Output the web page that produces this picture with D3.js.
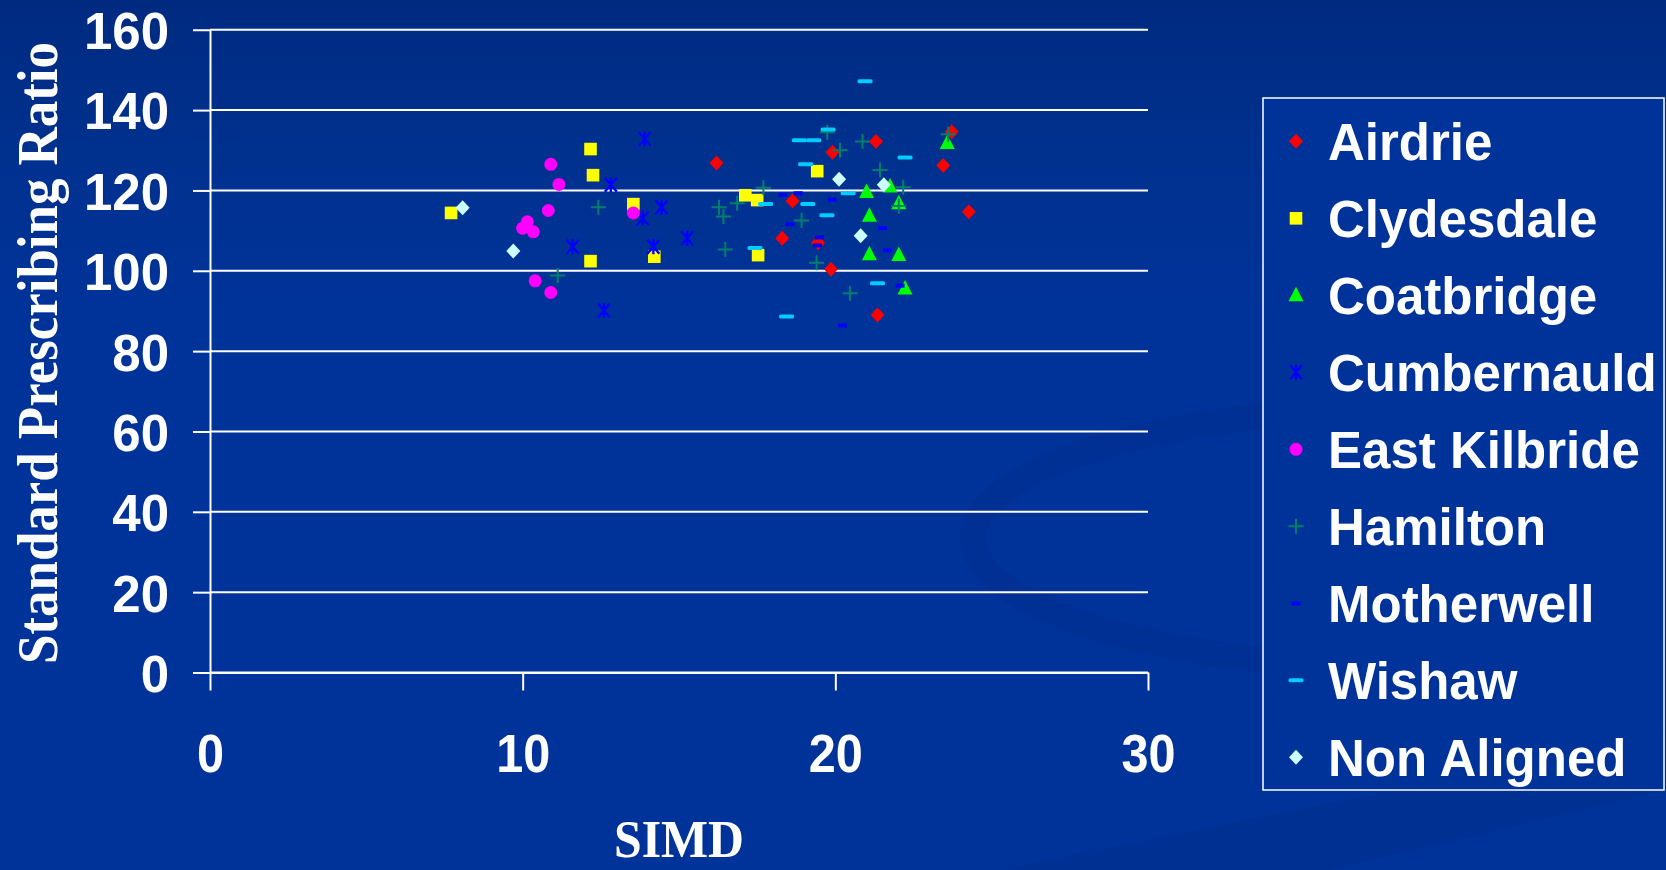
<!DOCTYPE html>
<html>
<head>
<meta charset="utf-8">
<script src="https://cdn.jsdelivr.net/npm/d3@7"></script>
<style>
  html, body { margin: 0; padding: 0; background: #003399; overflow: hidden; }
  #chart svg { display: block; }
</style>
</head>
<body>
<div id="chart"></div>
<script>
// Data: [SIMD, Standard Prescribing Ratio]
const airdrie = [[16.2,126.8],[18.63,117.4],[18.3,108.1],[19.45,107.0],[19.86,100.4],[19.91,129.5],[21.3,132.2],[21.35,89.0],[23.72,134.6],[23.45,126.2],[24.27,114.7]];
const clydesdale = [[7.71,114.4],[12.17,130.3],[12.25,123.8],[12.17,102.4],[13.54,116.6],[14.21,103.5],[17.12,118.8],[17.5,117.6],[17.53,103.9],[19.42,124.8]];
const coatbridge = [[21.0,119.6],[21.75,121.0],[21.09,113.7],[21.09,104.1],[22.03,116.8],[22.03,103.9],[22.23,95.6],[23.58,131.8]];
const cumbernauld = [[13.9,132.8],[12.82,121.4],[11.6,106.0],[12.6,90.1],[13.84,113.1],[14.44,115.8],[14.18,106.0],[15.26,108.1]];
const eastKilbride = [[10.9,126.5],[11.16,121.5],[10.82,115.0],[10.15,112.2],[10.0,110.6],[10.34,109.7],[10.4,97.5],[10.9,94.6],[13.54,114.4]];
const hamilton = [[12.42,115.8],[11.12,98.8],[17.7,120.7],[16.86,116.8],[16.28,115.8],[16.42,113.5],[16.48,105.3],[18.92,112.5],[19.4,102.0],[19.74,134.5],[20.15,130.0],[20.87,132.2],[21.43,125.1],[20.47,94.4],[22.03,116.1],[22.17,120.8],[23.61,134.0]];
const motherwell = [[18.33,118.9],[18.81,119.3],[19.9,117.7],[18.55,111.6],[19.49,108.3],[19.43,106.3],[21.51,110.6],[21.66,105.1],[22.07,96.3],[20.23,86.4]];
const wishaw = [[20.95,147.2],[19.77,135.2],[18.85,132.5],[19.31,132.5],[19.05,126.5],[17.77,116.6],[19.12,116.6],[19.73,113.8],[17.43,105.7],[18.44,88.6],[20.41,119.3],[21.35,96.9],[22.23,128.2]];
const nonAligned = [[8.08,115.7],[9.7,104.9],[20.12,122.8],[21.55,121.4],[20.81,108.7]];

const seriesNames = ["Airdrie", "Clydesdale", "Coatbridge", "Cumbernauld", "East Kilbride", "Hamilton", "Motherwell", "Wishaw", "Non Aligned"];
const xTicks = [0, 10, 20, 30];
const yTicks = [0, 20, 40, 60, 80, 100, 120, 140, 160];

const W = 1666, H = 870;
const svg = d3.select("#chart").append("svg")
  .attr("width", W)
  .attr("height", H);

// Background with the dark top and the faint swoosh
const defs = svg.append("defs");
const bg = defs.append("linearGradient").attr("id", "bg").attr("x1", 0).attr("y1", 0).attr("x2", 0).attr("y2", 1);
bg.append("stop").attr("offset", "0%").attr("stop-color", "#002a80");
bg.append("stop").attr("offset", "18%").attr("stop-color", "#00318f");
bg.append("stop").attr("offset", "35%").attr("stop-color", "#003399");
bg.append("stop").attr("offset", "100%").attr("stop-color", "#003399");
svg.append("rect").attr("width", W).attr("height", H).attr("fill", "url(#bg)");

svg.append("ellipse")
  .attr("cx", 1420).attr("cy", 538).attr("rx", 447).attr("ry", 130)
  .attr("fill", "none")
  .attr("stroke", "#00277f")
  .attr("stroke-opacity", 0.22)
  .attr("stroke-width", 26);
svg.append("path")
  .attr("d", "M1000,870 L1666,735 L1666,790 L1330,870 Z")
  .attr("fill", "#00287f").attr("fill-opacity", 0.25);

// Scales
const x = d3.scaleLinear().domain([0, 30]).range([210, 1148]);
const y = d3.scaleLinear().domain([0, 160]).range([672.5, 29.75]);

// Gridlines
svg.append("g")
  .selectAll("line")
  .data(yTicks)
  .join("line")
  .attr("x1", x(0))
  .attr("x2", x(30))
  .attr("y1", d => y(d))
  .attr("y2", d => y(d))
  .attr("stroke", "white")
  .attr("stroke-width", 2);

// Y axis
const yAxis = svg.append("g")
  .attr("transform", `translate(${x(0)},0)`)
  .call(d3.axisLeft(y).tickValues(yTicks).tickSize(17).tickSizeOuter(0).tickPadding(24));
yAxis.selectAll("path.domain, g.tick line").attr("stroke", "white").attr("stroke-width", 2);
yAxis.selectAll(".tick text")
  .attr("fill", "white")
  .attr("font-family", "'Liberation Sans', Arial, sans-serif")
  .attr("font-weight", "bold")
  .attr("font-size", 51)
  .attr("dy", "0.37em");

// X axis
const xAxis = svg.append("g")
  .attr("transform", `translate(0,${y(0)})`)
  .call(d3.axisBottom(x).tickValues(xTicks).tickSize(18).tickSizeOuter(0));
xAxis.selectAll("path.domain, g.tick line").attr("stroke", "white").attr("stroke-width", 2);
xAxis.selectAll(".tick text")
  .attr("fill", "white")
  .attr("font-family", "'Liberation Sans', Arial, sans-serif")
  .attr("font-weight", "bold")
  .attr("font-size", 54)
  .attr("y", 100)
  .attr("dy", 0)
  .attr("transform", "scale(0.9,1)");

// Axis titles
svg.append("text")
  .attr("transform", `translate(57,353) rotate(-90)`)
  .attr("text-anchor", "middle")
  .attr("fill", "white")
  .attr("font-family", "'Liberation Serif', 'Times New Roman', serif")
  .attr("font-weight", "bold")
  .attr("font-size", 56)
  .attr("textLength", 622)
  .attr("lengthAdjust", "spacingAndGlyphs")
  .text("Standard Prescribing Ratio");

svg.append("text")
  .attr("x", 679)
  .attr("y", 857)
  .attr("text-anchor", "middle")
  .attr("fill", "white")
  .attr("font-family", "'Liberation Serif', 'Times New Roman', serif")
  .attr("font-weight", "bold")
  .attr("font-size", 52)
  .attr("textLength", 130)
  .attr("lengthAdjust", "spacingAndGlyphs")
  .text("SIMD");

// Marker drawing helpers
function drawMarker(g, shape, color) {
  if (shape === "diamond") {
    g.append("path").attr("d", "M0,-7.5L7,0L0,7.5L-7,0Z").attr("fill", color);
  } else if (shape === "square") {
    g.append("rect").attr("x", -6.3).attr("y", -6.3).attr("width", 12.6).attr("height", 12.6).attr("fill", color);
  } else if (shape === "triangle") {
    g.append("path").attr("d", "M0,-8.5L7.5,6L-7.5,6Z").attr("fill", color);
  } else if (shape === "asterisk") {
    g.append("path").attr("d", "M-6,-7L6,7M6,-7L-6,7M0,-7.5L0,7.5")
      .attr("stroke", color).attr("stroke-width", 2.4).attr("fill", "none");
  } else if (shape === "circle") {
    g.append("circle").attr("r", 6.5).attr("fill", color);
  } else if (shape === "plus") {
    g.append("path").attr("d", "M-7.5,0H7.5M0,-7.5V7.5")
      .attr("stroke", color).attr("stroke-width", 2).attr("fill", "none");
  } else if (shape === "shortdash") {
    g.append("rect").attr("x", -4.5).attr("y", -2).attr("width", 9).attr("height", 4).attr("fill", color);
  } else if (shape === "dash") {
    g.append("rect").attr("x", -7.5).attr("y", -2).attr("width", 15).attr("height", 4).attr("rx", 1.5).attr("fill", color);
  }
}

const series = [
  { name: seriesNames[0], values: airdrie, shape: "diamond", color: "#ff0000" },
  { name: seriesNames[1], values: clydesdale, shape: "square", color: "#ffff00" },
  { name: seriesNames[2], values: coatbridge, shape: "triangle", color: "#00ff00" },
  { name: seriesNames[3], values: cumbernauld, shape: "asterisk", color: "#0000ff" },
  { name: seriesNames[4], values: eastKilbride, shape: "circle", color: "#ff00ff" },
  { name: seriesNames[5], values: hamilton, shape: "plus", color: "#00806a" },
  { name: seriesNames[6], values: motherwell, shape: "shortdash", color: "#0000ff" },
  { name: seriesNames[7], values: wishaw, shape: "dash", color: "#00ccff" },
  { name: seriesNames[8], values: nonAligned, shape: "diamond", color: "#ccffff" }
];

// Points
series.forEach(s => {
  svg.append("g")
    .selectAll("g")
    .data(s.values)
    .join("g")
    .attr("transform", d => `translate(${x(d[0])},${y(d[1])})`)
    .each(function () { drawMarker(d3.select(this), s.shape, s.color); });
});

// Legend
const legend = svg.append("g").attr("class", "legend");
legend.append("rect")
  .attr("x", 1263).attr("y", 98)
  .attr("width", 401).attr("height", 692)
  .attr("fill", "#003399")
  .attr("stroke", "white")
  .attr("stroke-width", 1.5);

series.forEach((s, i) => {
  const cy = 141.3 + i * 77;
  const item = legend.append("g").attr("transform", `translate(1296,${cy})`);
  drawMarker(item, s.shape, s.color);
  legend.append("text")
    .attr("x", 1328)
    .attr("y", cy + 18.5)
    .attr("fill", "white")
    .attr("font-family", "'Liberation Sans', Arial, sans-serif")
    .attr("font-weight", "bold")
    .attr("font-size", 51)
    .text(s.name);
});
</script>
</body>
</html>
